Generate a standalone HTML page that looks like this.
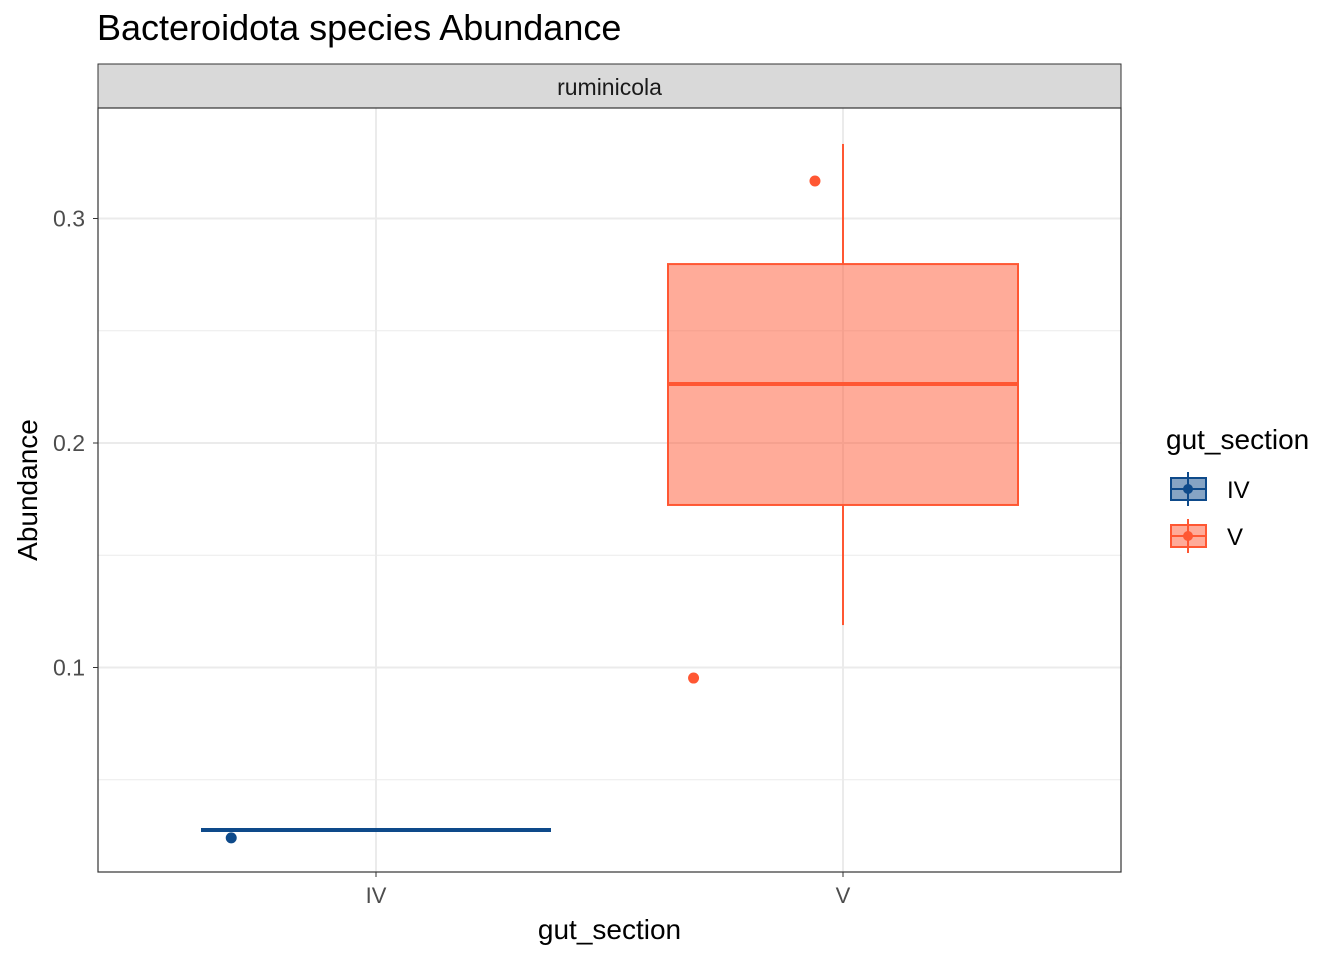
<!DOCTYPE html>
<html><head><meta charset="utf-8"><style>body{margin:0;background:#fff}svg{font-family:"Liberation Sans",sans-serif}</style></head>
<body>
<svg width="1344" height="960" xmlns="http://www.w3.org/2000/svg" id="chart">
<text x="97" y="40" font-size="36" fill="#000">Bacteroidota species Abundance</text>
<rect x="98" y="64" width="1023" height="44" fill="#d9d9d9" stroke="#333" stroke-width="1"/>
<text x="609.5" y="95" font-size="23" text-anchor="middle" fill="#1a1a1a">ruminicola</text>
<g id="grid"></g>
<g id="marks"></g>
<rect x="98" y="108" width="1023" height="764" fill="none" stroke="#333" stroke-width="1.2"/>
<g id="axes"></g>
<text x="609.5" y="939" font-size="28" text-anchor="middle">gut_section</text>
<text transform="translate(37,490) rotate(-90)" font-size="28" text-anchor="middle">Abundance</text>
<g>
<text x="1166" y="449" font-size="28">gut_section</text>
<g>
<line x1="1188" y1="472" x2="1188" y2="506" stroke="#0e4a8a" stroke-width="2"/>
<rect x="1171" y="478" width="35" height="22" fill="rgba(14,74,138,0.5)" stroke="#0e4a8a" stroke-width="2"/>
<line x1="1171" y1="489" x2="1206" y2="489" stroke="#0e4a8a" stroke-width="2"/>
<circle cx="1188" cy="489" r="5" fill="#0e4a8a"/>
<text x="1227" y="498" font-size="24">IV</text></g>
<g>
<line x1="1188" y1="519" x2="1188" y2="553" stroke="#ff5733" stroke-width="2"/>
<rect x="1171" y="525" width="35" height="22" fill="rgba(255,87,51,0.5)" stroke="#ff5733" stroke-width="2"/>
<line x1="1171" y1="536" x2="1206" y2="536" stroke="#ff5733" stroke-width="2"/>
<circle cx="1188" cy="536" r="5" fill="#ff5733"/>
<text x="1227" y="545" font-size="24">V</text></g>
</g>
</svg>
<script>
const categories=["IV","V"];
const colors=["#0e4a8a","#ff5733"];
const q1=[0.0276,0.1724];
const median=[0.0276,0.2263];
const q3=[0.0276,0.2797];
const whiskerLow=[0.0276,0.1189];
const whiskerHigh=[0.0276,0.3332];
const pointCat=["IV","V","V"];
const pointVal=[0.0241,0.3167,0.0953];
const pointJitter=[-0.31,-0.06,-0.32];
const yTicks=[0.1,0.2,0.3];
const yMinor=[0.05,0.15,0.25];
const NS="http://www.w3.org/2000/svg";
const y=v=>443-(v-0.2)*2245;
const x=i=>376+i*467;
const bw=175;
function mk(p,t,a){const e=document.createElementNS(NS,t);for(const k in a)e.setAttribute(k,a[k]);p.appendChild(e);return e;}
const grid=document.getElementById('grid'),marks=document.getElementById('marks'),axes=document.getElementById('axes');
mk(grid,'rect',{x:98,y:108,width:1023,height:764,fill:'#fff'});
yMinor.forEach(v=>{const l=mk(grid,'line',{x1:98,x2:1121,y1:y(v),y2:y(v),stroke:'#ebebeb','stroke-width':1});

});
yTicks.forEach(v=>{const l=mk(grid,'line',{x1:98,x2:1121,y1:y(v),y2:y(v),stroke:'#ebebeb','stroke-width':2});


mk(axes,'line',{x1:93,x2:98,y1:y(v),y2:y(v),stroke:'#333','stroke-width':1});
const t=mk(axes,'text',{x:85,y:y(v)+8,'font-size':23,'text-anchor':'end',fill:'#4d4d4d'});t.textContent=v.toFixed(1);

});
categories.forEach((c,i)=>{const l=mk(grid,'line',{x1:x(i),x2:x(i),y1:108,y2:872,stroke:'#ebebeb','stroke-width':2});


mk(axes,'line',{x1:x(i),x2:x(i),y1:872,y2:877,stroke:'#333'});
const t=mk(axes,'text',{x:x(i),y:903,'font-size':22,'text-anchor':'middle',fill:'#4d4d4d'});t.textContent=c;


const g=mk(marks,'g',{});


mk(g,'line',{x1:x(i),x2:x(i),y1:y(whiskerHigh[i]),y2:y(q3[i]),stroke:colors[i],'stroke-width':2});
mk(g,'line',{x1:x(i),x2:x(i),y1:y(q1[i]),y2:y(whiskerLow[i]),stroke:colors[i],'stroke-width':2});
const h=Math.max(0,y(q1[i])-y(q3[i]));
mk(g,'rect',{x:x(i)-bw,y:y(q3[i]),width:2*bw,height:h,fill:colors[i],'fill-opacity':0.5,stroke:colors[i],'stroke-width':2});
mk(g,'line',{x1:x(i)-bw,x2:x(i)+bw,y1:y(median[i]),y2:y(median[i]),stroke:colors[i],'stroke-width':4});});
pointVal.forEach((v,k)=>{const i=categories.indexOf(pointCat[k]);
const p=mk(marks,'circle',{cx:x(i)+pointJitter[k]*467,cy:y(v),r:5.5,fill:colors[i]});

});
</script>
</body></html>
